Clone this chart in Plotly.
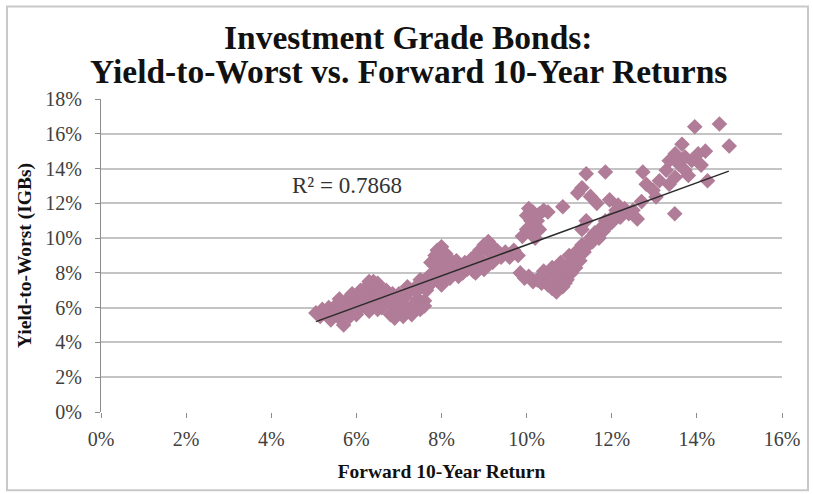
import plotly.graph_objects as go

# Forward 10-year return (%), Yield-to-worst (%)
fwd_return = [
    # 5.0 - 6.9
    5.05,5.15,5.2,5.3,5.35,5.4,5.5,5.5,5.6,5.6,5.7,5.7,5.75,5.8,5.85,5.9,5.95,6.0,6.0,6.05,
    6.1,6.15,6.2,6.2,6.25,6.3,6.35,6.4,6.45,6.5,6.5,6.55,6.6,6.65,6.7,6.75,6.8,6.85,6.9,
    5.6,5.9,6.1,6.3,6.3,6.5,6.6,
    # 6.8 - 7.7
    6.8,6.9,6.95,7.0,7.05,7.1,7.15,7.2,7.25,7.3,7.35,7.4,7.45,7.5,7.55,7.6,7.65,7.7,7.0,7.2,
    7.4,7.6,7.3,7.5,7.7,
    # 7.7 - 8.6
    7.75,7.8,7.85,7.9,7.9,7.95,8.0,8.0,8.05,8.1,8.1,8.15,8.2,8.25,8.3,8.35,8.4,8.45,8.5,8.55,
    8.6,7.8,8.0,8.2,7.9,
    # 8.6 - 9.8
    8.65,8.7,8.75,8.8,8.85,8.9,8.95,9.0,9.05,9.1,9.15,9.2,9.25,9.3,9.35,9.4,9.5,9.6,9.7,9.8,
    9.0,9.2,8.8,
    # 10 - 11 upper
    10.0,10.05,10.1,10.15,10.2,10.3,10.4,10.5,10.85,10.1,10.2,10.3,9.9,10.0,10.25,
    # 10 - 11.3 lower branch
    9.85,9.95,10.05,10.15,10.25,10.35,10.45,10.5,10.55,10.6,10.65,10.7,10.75,10.8,10.85,10.9,
    10.95,11.0,11.05,11.1,11.15,11.2,11.25,11.3,10.4,10.6,10.8,11.0,10.7,10.9,
    # 11.2 - 12.7
    11.35,11.45,11.5,11.55,11.6,11.7,11.75,11.8,11.85,11.9,12.0,12.05,12.1,12.2,11.3,11.2,
    11.4,11.85,11.5,11.65,11.95,12.15,12.3,12.4,12.5,12.6,12.7,11.4,11.3,
    # 12.7 - 14.8
    12.73,12.81,12.97,13.12,13.28,13.35,13.49,13.65,13.57,13.72,13.88,14.03,14.2,13.95,14.53,
    14.76,14.25,13.48,13.04,13.35,13.49,13.72,14.1,13.8,
]
yield_to_worst = [
    5.7,5.5,5.9,5.6,6.0,5.3,5.8,6.1,5.4,6.2,5.0,5.7,6.4,6.0,5.5,6.5,6.1,5.6,6.7,6.3,
    6.0,6.8,7.1,6.4,6.6,7.3,6.2,7.5,6.9,7.4,6.5,7.1,6.8,6.3,7.0,6.6,6.3,6.8,6.5,
    6.5,6.8,7.0,5.8,7.5,5.9,6.0,
    5.6,5.4,6.0,5.7,6.3,5.5,6.6,5.9,7.0,5.6,6.2,7.2,6.5,5.9,7.5,6.4,7.0,7.8,6.8,7.2,
    6.9,6.1,6.0,7.6,7.3,
    8.6,7.5,9.0,8.2,9.3,7.8,9.5,8.6,7.6,9.1,8.3,8.9,7.9,8.5,8.1,8.7,7.8,8.3,8.0,8.6,
    8.2,8.0,7.3,7.7,8.9,
    8.4,8.8,8.1,9.0,8.5,9.3,8.7,9.6,8.4,9.8,9.1,9.5,8.8,9.3,9.0,8.9,9.2,8.9,9.3,9.0,
    8.2,8.6,8.0,
    11.3,11.7,11.0,11.5,10.6,11.4,11.6,11.5,11.8,10.3,10.0,10.5,10.1,10.5,11.0,
    8.0,7.7,7.8,7.5,7.6,7.4,7.7,7.3,7.9,7.1,7.5,6.9,7.3,7.8,7.2,8.1,
    7.6,8.5,8.0,8.9,8.3,9.3,8.7,9.6,8.1,8.3,8.6,9.0,8.2,7.4,
    9.2,9.6,10.0,9.8,10.3,10.0,10.6,10.4,11.0,10.7,10.9,11.3,11.6,11.2,12.9,12.6,
    13.7,13.8,12.4,12.0,12.2,11.9,11.7,11.4,11.6,11.1,12.1,11.0,10.5,
    13.8,13.1,12.75,13.3,13.9,14.45,14.85,15.4,14.27,14.66,14.46,14.85,15.0,16.4,16.56,
    15.3,13.3,11.4,12.36,13.1,13.5,13.9,14.2,13.6,
]

# Linear trend line end points
trend_x = [5.05, 14.75]
trend_y = [5.2, 13.85]
r_squared_label = "R² = 0.7868"
title_lines = ["Investment Grade Bonds:", "Yield-to-Worst vs. Forward 10-Year Returns"]

x_ticks = [0, 2, 4, 6, 8, 10, 12, 14, 16]
y_ticks = [0, 2, 4, 6, 8, 10, 12, 14, 16, 18]

SERIF = "Liberation Serif"

fig = go.Figure()
fig.add_trace(go.Scatter(
    x=fwd_return, y=yield_to_worst, mode="markers",
    marker=dict(symbol="diamond", size=12, color="#B07C97", line=dict(width=0)),
    showlegend=False, hoverinfo="skip",
))
fig.add_trace(go.Scatter(
    x=trend_x, y=trend_y, mode="lines",
    line=dict(color="#2b2b2b", width=1.5), showlegend=False, hoverinfo="skip",
))

fig.add_annotation(
    x=5.78, y=13.03, xref="x", yref="y", text=r_squared_label, showarrow=False,
    font=dict(family=SERIF, size=23, color="#333333"),
)

W, H = 813, 494
L, R, T, B = 101, 31, 98.5, 82.3
pw, ph = W - L - R, H - T - B

def px_x(px):
    return (px - L) / pw

def px_y(py):
    return (H - B - py) / ph

# title lines
for text, ypix in zip(title_lines, [37, 71]):
    fig.add_annotation(
        x=px_x(408), y=px_y(ypix), xref="paper", yref="paper",
        xanchor="center", yanchor="middle", showarrow=False,
        text=f"<b>{text}</b>",
        font=dict(family=SERIF, size=33.5, color="#111111"),
    )

# outer frame
fig.add_shape(type="rect", xref="paper", yref="paper",
              x0=px_x(7), x1=px_x(808), y0=px_y(490), y1=px_y(6),
              line=dict(color="#c9c9c9", width=2), layer="below")

fig.update_layout(
    width=W, height=H,
    margin=dict(l=L, r=R, t=T, b=B),
    paper_bgcolor="white", plot_bgcolor="white",
    xaxis=dict(
        range=[0, 16], tickvals=x_ticks, ticktext=[f"{v}%" for v in x_ticks],
        showgrid=False, zeroline=False, showline=False,
        ticks="outside", ticklen=5, tickcolor="#8c8c8c",
        tickfont=dict(family=SERIF, size=20, color="#404040"),
        ticklabelstandoff=4,
        title=dict(text="<b>Forward 10-Year Return</b>", standoff=15,
                   font=dict(family=SERIF, size=19.5, color="#111111")),
        fixedrange=True,
    ),
    yaxis=dict(
        range=[0, 18], tickvals=y_ticks, ticktext=[f"{v}%" for v in y_ticks],
        showgrid=True, gridcolor="#c4c4c4", gridwidth=1.5,
        zeroline=False, showline=True, linecolor="#8c8c8c", linewidth=1,
        ticks="outside", ticklen=5, tickcolor="#8c8c8c",
        tickfont=dict(family=SERIF, size=20, color="#404040"),
        ticklabelstandoff=9,
        title=dict(text="<b>Yield-to-Worst (IGBs)</b>", standoff=8,
                   font=dict(family=SERIF, size=19.5, color="#111111")),
        fixedrange=True,
    ),
)

fig.write_html("out.html", config={"displayModeBar": False},
               post_script="document.body.style.margin='0px';")
